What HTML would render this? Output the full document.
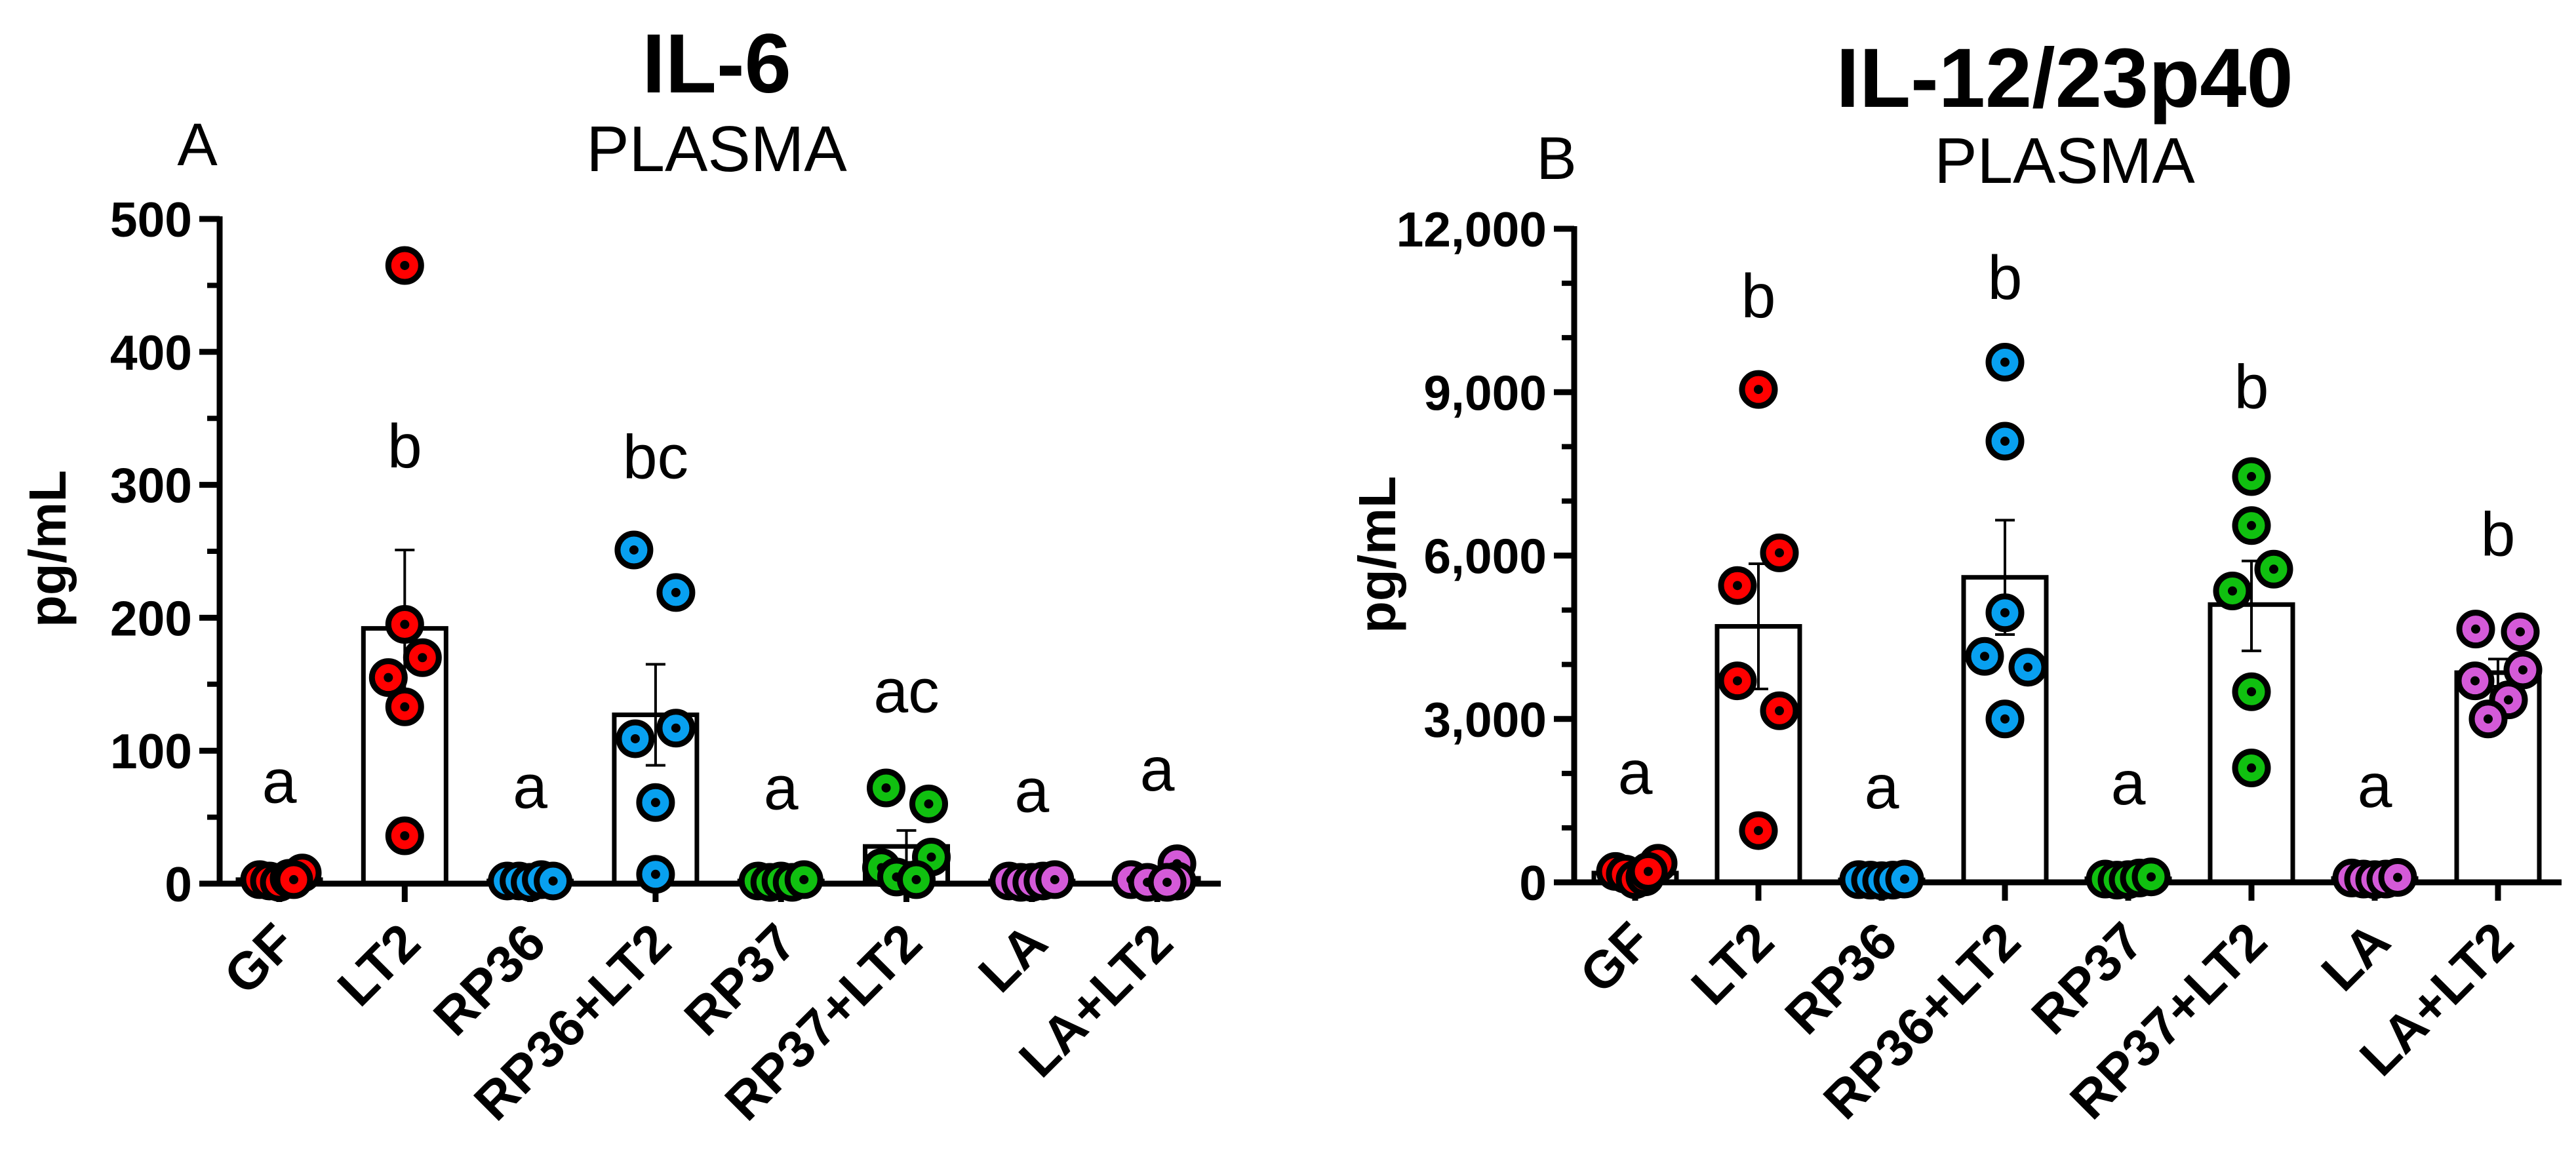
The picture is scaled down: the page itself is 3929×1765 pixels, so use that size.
<!DOCTYPE html>
<html><head><meta charset="utf-8"><style>
html,body{margin:0;padding:0;background:#fff;}
svg{display:block;font-family:"Liberation Sans",Arial,sans-serif;}
</style></head><body>
<svg id="chart" width="3929" height="1765" viewBox="0 0 3929 1765" xmlns="http://www.w3.org/2000/svg">
<rect width="3929" height="1765" fill="#fff"/>
<g id="panelA"></g>
<g id="panelB"></g>
</svg>
<script>
const categories = ["GF","LT2","RP36","RP36+LT2","RP37","RP37+LT2","LA","LA+LT2"];
const groupColors = ["#ff0000","#ff0000","#08a0f0","#08a0f0","#10c010","#10c010","#d45ad8","#d45ad8"];

// IL-6 values (pg/mL)
const il6Points = [[3,2,1,4,8,3],[465,195,170,155,133,36],[2,2,1,3,2],[251,219,117,109,61,7],[2,1,2,1,3],[72,60,20,12,5,3],[2,1,1,2,3],[15,3,2,1,1]];
const il6Means = [3,192,2,127,2,28,2,4];
const il6ErrHigh = [5,251,3,165,3,40,3,7];
const il6ErrLow = [1,133,1,89,1,16,1,1];
const il6Letters = ["a","b","a","bc","a","ac","a","a"];
const il6LetterY = [61,313,57,305,56,129,54,70];
const il6Ticks = [0,100,200,300,400,500];
const il6TickLabels = ["0","100","200","300","400","500"];

// IL-12/23p40 values (pg/mL)
const il12Points = [[200,150,50,100,350,200],[9050,6050,5450,3700,3150,950],[50,40,30,40,60],[9550,8100,4950,4150,3950,3000],[60,40,50,80,100],[7450,6550,5750,5350,3500,2100],[80,60,50,60,90],[4650,4600,3900,3700,3350,3000]];
const il12Means = [170,4700,45,5600,65,5100,70,3850];
const il12ErrHigh = [220,5850,55,6650,80,5900,85,4100];
const il12ErrLow = [120,3550,35,4550,50,4250,55,3600];
const il12Letters = ["a","b","a","b","a","b","a","b"];
const il12LetterY = [1625,10375,1360,10710,1430,8710,1385,6000];
const il12Ticks = [0,3000,6000,9000,12000];
const il12TickLabels = ["0","3,000","6,000","9,000","12,000"];

// jitter offsets (px, layout only)
const jitA = [[-30,-15,0,15,35,22],[0,0,27,-25,0,0],[-35,-17,0,17,35],[-33,31,31,-31,0,0],[-35,-17,0,17,35],[-31,34,38,-38,-15,15],[-35,-17,0,17,35],[30,-40,30,-15,15]];
const jitB = [[-30,-15,0,15,35,20],[0,32,-32,-32,32,0],[-35,-17,0,17,35],[0,0,0,-31,35,0],[-35,-17,0,17,35],[0,0,34,-29,0,0],[-35,-17,0,17,35],[-34,34,38,-35,16,-15]];

const NS="http://www.w3.org/2000/svg";
function mk(parent,tag,attrs,text){const e=document.createElementNS(NS,tag);for(const k in attrs)e.setAttribute(k,attrs[k]);if(text!==undefined)e.textContent=text;parent.appendChild(e);return e;}

function drawPanel(g,cfg){
  const y=v=>cfg.y0-(v/cfg.max)*(cfg.y0-cfg.yTop);
  const x=i=>cfg.x0+i*cfg.dx;
  let t=mk(g,'text',{x:cfg.titleX,y:cfg.titleY,'text-anchor':'middle','font-size':128,'font-weight':'bold'},cfg.title);
  
  
  t=mk(g,'text',{x:cfg.titleX,y:cfg.subY,'text-anchor':'middle','font-size':98},'PLASMA');
  
  
  t=mk(g,'text',{x:cfg.letterX,y:cfg.letterY,'text-anchor':'middle','font-size':92},cfg.panel);
  
  
  t=mk(g,'text',{x:cfg.ylabX,y:cfg.ylabY,'text-anchor':'middle','font-size':80,'font-weight':'bold',transform:`rotate(-90 ${cfg.ylabX} ${cfg.ylabY})`,'dominant-baseline':'middle'},'pg/mL');
  
  
  for(let i=0;i<categories.length;i++){
    const r=mk(g,'rect',{x:x(i)-63,y:y(cfg.means[i]),width:126,height:cfg.y0-y(cfg.means[i]),fill:'#fff',stroke:'#000','stroke-width':7});
    
    
    const eb=mk(g,'path',{d:`M${x(i)} ${y(cfg.hi[i])}V${y(cfg.lo[i])}M${x(i)-15} ${y(cfg.hi[i])}h30M${x(i)-15} ${y(cfg.lo[i])}h30`,stroke:'#000','stroke-width':4,fill:'none'});
    
    
  }
  const ax=mk(g,'line',{x1:cfg.axX,y1:cfg.yTop-4,x2:cfg.axX,y2:cfg.y0+4,stroke:'#000','stroke-width':9});
  
  
  for(let k=0;k<=cfg.nMinor;k++){
    const v=cfg.max*k/cfg.nMinor;
    mk(g,'line',{x1:cfg.axX-19,y1:y(v),x2:cfg.axX,y2:y(v),stroke:'#000','stroke-width':8});
  }
  for(let k=0;k<cfg.ticks.length;k++){
    mk(g,'line',{x1:cfg.axX-31,y1:y(cfg.ticks[k]),x2:cfg.axX,y2:y(cfg.ticks[k]),stroke:'#000','stroke-width':9});
    const tl=mk(g,'text',{x:cfg.axX-42,y:y(cfg.ticks[k])+27,'text-anchor':'end','font-size':75,'font-weight':'bold'},cfg.tickLabels[k]);
    
    
  }
  const xa=mk(g,'line',{x1:cfg.axX-4,y1:cfg.y0,x2:cfg.xEnd,y2:cfg.y0,stroke:'#000','stroke-width':9});
  
  
  for(let i=0;i<categories.length;i++){
    mk(g,'line',{x1:x(i),y1:cfg.y0,x2:x(i),y2:cfg.y0+28,stroke:'#000','stroke-width':9});
    const lx=x(i)+28, ly=cfg.y0+95;
    const cl=mk(g,'text',{x:lx,y:ly,'text-anchor':'end','font-size':80,'font-weight':'bold',transform:`rotate(-45 ${lx} ${ly})`},categories[i]);
    
    
  }
  for(let i=0;i<categories.length;i++){
    cfg.pts[i].forEach((v,j)=>{
      const cx=x(i)+cfg.jit[i][j], cy=y(v);
      const c=mk(g,'circle',{cx:cx,cy:cy,r:25,fill:groupColors[i],stroke:'#000','stroke-width':9});
      
      
      mk(g,'circle',{cx:cx,cy:cy,r:7,fill:'#000'});
    });
  }
  for(let i=0;i<categories.length;i++){
    const lt=mk(g,'text',{x:x(i),y:y(cfg.letY[i]),'text-anchor':'middle','font-size':95},cfg.letters[i]);
    
    
  }
}

drawPanel(document.getElementById('panelA'),{title:'IL-6',panel:'A',titleX:1093,titleY:141,subY:261,letterX:301,letterY:252,
  ylabX:79,ylabY:837,axX:335,yTop:334,y0:1348,max:500,nMinor:10,ticks:il6Ticks,tickLabels:il6TickLabels,
  x0:426,dx:191.3,xEnd:1862,means:il6Means,hi:il6ErrHigh,lo:il6ErrLow,pts:il6Points,jit:jitA,letters:il6Letters,letY:il6LetterY});
drawPanel(document.getElementById('panelB'),{title:'IL-12/23p40',panel:'B',titleX:3149,titleY:163,subY:279,letterX:2374,letterY:273,
  ylabX:2107,ylabY:846,axX:2401,yTop:349,y0:1346,max:12000,nMinor:12,ticks:il12Ticks,tickLabels:il12TickLabels,
  x0:2494,dx:188,xEnd:3907,means:il12Means,hi:il12ErrHigh,lo:il12ErrLow,pts:il12Points,jit:jitB,letters:il12Letters,letY:il12LetterY});
</script>
</body></html>
